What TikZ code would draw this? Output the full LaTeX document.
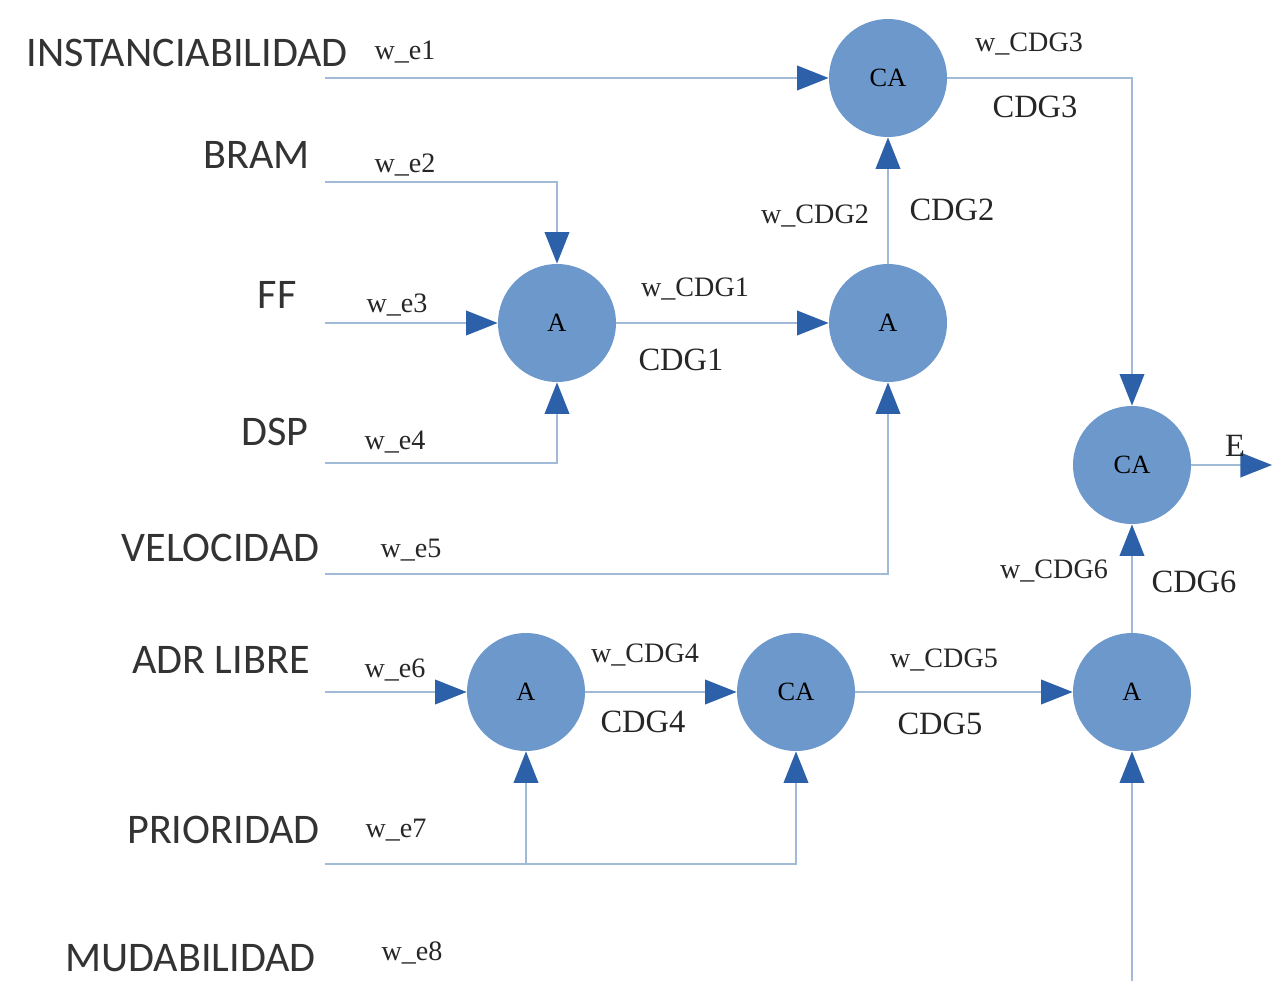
\documentclass[tikz,border=0pt]{standalone}
\usepackage{fontspec}
\setmainfont{Liberation Serif}
\newfontfamily\capfont{Carlito}
\usetikzlibrary{arrows.meta}
\definecolor{nodeblue}{RGB}{108,152,204}
\definecolor{tipblue}{RGB}{44,96,168}
\definecolor{lineblue}{RGB}{160,186,216}

\begin{document}
\begin{tikzpicture}
	[%
	x=0.02cm, y=-0.02cm,%
	unit/.style   ={circle,	fill=nodeblue,	inner sep=0pt,	minimum size=2.36cm,	font=\fontsize{15}{15}\selectfont},%
	varname/.style={anchor=east,	inner sep=0pt,	text=black!80,	font=\capfont\fontsize{24}{24}\selectfont},%
	weight/.style ={text=black!85,	font=\fontsize{16}{16}\selectfont},%
	signal/.style ={text=black!85,	font=\fontsize{18.5}{18.5}\selectfont},%
	link/.style   ={draw=lineblue,	line width=1.1pt,	-{Triangle[length=18pt, width=14pt, color=tipblue]}},%
	]

	\useasboundingbox (0,0) rectangle (1272,981);

	% nodes
	\node (ca1) at (888,78)   [unit] {CA};
	\node (a1)  at (557,323)  [unit] {A};
	\node (a2)  at (888,323)  [unit] {A};
	\node (ca2) at (1132,465) [unit] {CA};
	\node (a3)  at (526,692)  [unit] {A};
	\node (ca3) at (796,692)  [unit] {CA};
	\node (a4)  at (1132,692) [unit] {A};

	% inputs
	\foreach \i/\y in {1/78,2/182,3/323,4/463,5/574,6/692,7/864}%
		\coordinate (in\i) at (325,\y);
	\coordinate (in8) at (1132,981);
	\coordinate (out) at (1272,465);
	\coordinate (split) at (a3 |- in7);

	\foreach \i/\x/\y/\t in {1/348/53/INSTANCIABILIDAD, 2/310/155/BRAM, 3/297/295/FF, 4/309/432/DSP,
		5/320/548/VELOCIDAD, 6/310/660/ADR LIBRE, 7/320/830/PRIORIDAD, 8/316/958/MUDABILIDAD}%
		\node (name\i) at (\x,\y) [varname] {\t};
	\foreach \i/\x/\y in {1/405/52, 2/405/165, 3/397/305, 4/395/442, 5/411/550, 6/395/670, 7/396/830, 8/412/953}%
		\node (we\i) at (\x,\y) [weight] {w\_e\i};

	% interconnections
	\draw [link] (in1) -- (ca1);
	\draw [link] (in2) -| (a1);
	\draw [link] (in3) -- (a1);
	\draw [link] (in4) -| (a1);
	\draw [link] (in5) -| (a2);
	\draw [link] (a1) -- (a2);
	\draw [link] (a2) -- (ca1);
	\draw [link] (ca1) -| (ca2);
	\draw [link] (ca2) -- (out);
	\draw [link] (in6) -- (a3);
	\draw [link] (in7) -| (ca3);
	\draw [link] (split) -- (a3);
	\draw [link] (a3) -- (ca3);
	\draw [link] (ca3) -- (a4);
	\draw [link] (a4) -- (ca2);
	\draw [link] (in8) -- (a4);

	% signal labels
	\node (wcdg1) at (695,289)  [weight] {w\_CDG1};
	\node (cdg1)  at (681,360)  [signal] {CDG1};
	\node (wcdg2) at (815,216)  [weight] {w\_CDG2};
	\node (cdg2)  at (952,210)  [signal] {CDG2};
	\node (wcdg3) at (1029,44)  [weight] {w\_CDG3};
	\node (cdg3)  at (1035,107) [signal] {CDG3};
	\node (wcdg4) at (645,655)  [weight] {w\_CDG4};
	\node (cdg4)  at (643,722)  [signal] {CDG4};
	\node (wcdg5) at (944,660)  [weight] {w\_CDG5};
	\node (cdg5)  at (940,724)  [signal] {CDG5};
	\node (wcdg6) at (1054,571) [weight] {w\_CDG6};
	\node (cdg6)  at (1194,582) [signal] {CDG6};
	\node (outE)  at (1235,446) [signal] {E};

\end{tikzpicture}
\end{document}
